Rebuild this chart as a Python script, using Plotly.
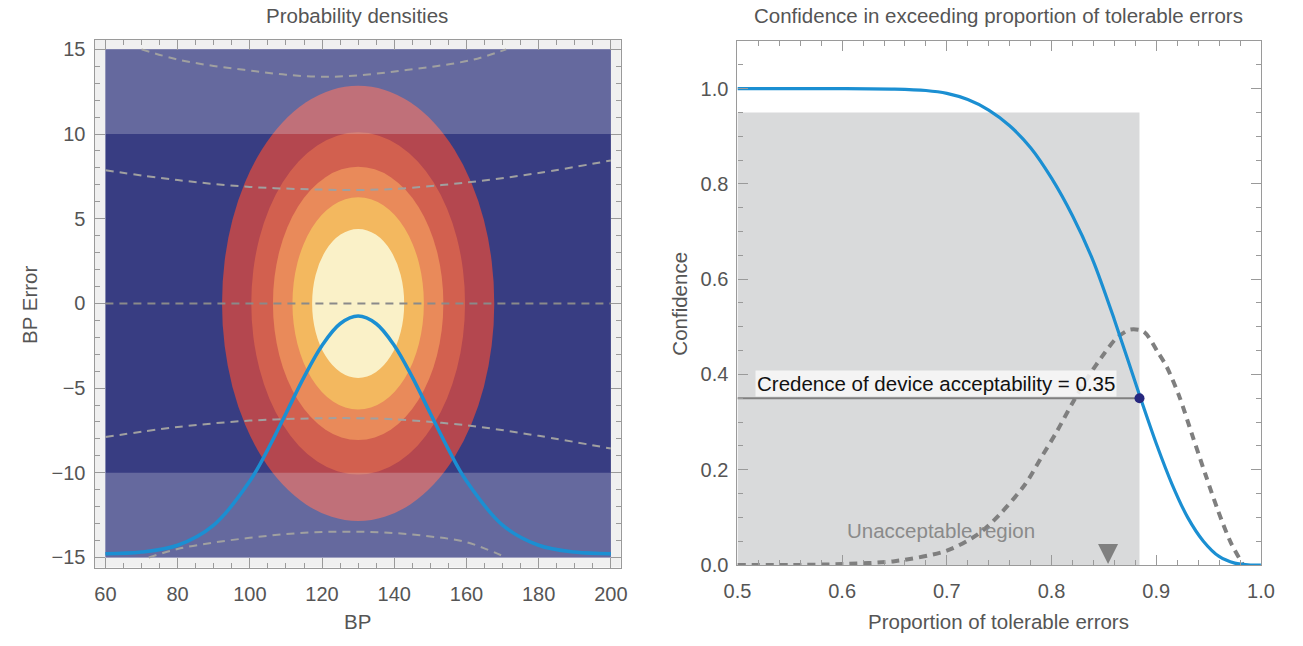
import plotly.graph_objects as go

# ---------------- Left panel data ----------------
# Elliptical density contour bands (centre, semi-axes), outer -> inner
ell_cx = 130.0
ell_cy = 0.0
ell_ax = [37.7, 29.6, 23.6, 18.2, 12.75]
ell_ay = [12.85, 10.1, 8.07, 6.27, 4.4]
ell_colors = ["#b4474f", "#d2604f", "#e98a5a", "#f3b85f", "#faf1c8"]

# dashed reference curves
mid_x = [60, 200]
mid_y = [0, 0]
up_in_x = [60, 80, 100, 120, 130, 140, 160, 180, 200]
up_in_y = [7.86, 7.28, 6.88, 6.72, 6.70, 6.76, 7.14, 7.70, 8.44]
lo_in_x = [60, 80, 100, 120, 130, 140, 160, 180, 200]
lo_in_y = [-7.89, -7.3, -6.92, -6.78, -6.78, -6.84, -7.2, -7.82, -8.57]
up_out_x = [70, 80, 90, 100, 110, 121, 132, 142, 152, 162, 171]
up_out_y = [15.0, 14.4, 14.02, 13.75, 13.5, 13.38, 13.5, 13.75, 14.02, 14.4, 15.0]
lo_out_x = [72, 80, 90, 100, 110, 120, 130, 140, 150, 160, 171]
lo_out_y = [-15.0, -14.5, -14.12, -13.84, -13.62, -13.5, -13.48, -13.56, -13.76, -14.1, -15.0]

# blue marginal curve
bp_x = [60, 70, 80, 90, 100, 105, 110, 115, 120, 125, 130, 135, 140, 145, 150, 155, 160, 170, 180, 190, 200]
bp_y = [-14.78, -14.68, -14.28, -13.09, -10.49, -8.62, -6.50, -4.35, -2.48, -1.20, -0.75,
        -1.20, -2.48, -4.35, -6.50, -8.62, -10.49, -13.09, -14.28, -14.68, -14.78]

# ---------------- Right panel data ----------------
conf_x = [0.50, 0.60, 0.65, 0.68, 0.70, 0.72, 0.74, 0.76, 0.78, 0.80, 0.82, 0.84, 0.86,
          0.885, 0.90, 0.915, 0.93, 0.945, 0.96, 0.975, 0.99, 1.0]
conf_y = [1.0, 1.0, 0.999, 0.996, 0.99, 0.977, 0.955, 0.922, 0.876, 0.812, 0.733, 0.637, 0.515,
          0.35, 0.255, 0.17, 0.10, 0.05, 0.018, 0.004, 0.0, 0.0]

dens_x = [0.50, 0.55, 0.60, 0.65, 0.70, 0.73, 0.75, 0.775, 0.79, 0.805, 0.82, 0.835, 0.85,
          0.862, 0.875, 0.888, 0.902, 0.91, 0.922, 0.934, 0.947, 0.959, 0.971, 0.983]
dens_y = [0.0, 0.0, 0.002, 0.008, 0.03, 0.065, 0.105, 0.17, 0.225, 0.28, 0.34, 0.395, 0.443,
          0.476, 0.494, 0.49, 0.445, 0.416, 0.354, 0.275, 0.19, 0.114, 0.048, 0.0]

region_x = [0.5, 0.884]
region_y = [0.0, 0.95]
credence_x = 0.884
credence = 0.35
arrow_x = 0.854

GRAY_TXT = "#555555"
FONT = "Liberation Sans"
TICK = "#9a9a9a"

fig = go.Figure()

# ---- left panel traces ----
dash_style = dict(color="#a0a0a0", width=2, dash="8px,6px")
for xs, ys in [(up_out_x, up_out_y), (up_in_x, up_in_y), (lo_in_x, lo_in_y), (lo_out_x, lo_out_y)]:
    fig.add_trace(go.Scatter(x=xs, y=ys, mode="lines", line=dict(shape="spline", **dash_style),
                             xaxis="x", yaxis="y", showlegend=False, hoverinfo="skip"))
fig.add_trace(go.Scatter(x=mid_x, y=mid_y, mode="lines",
                         line=dict(color="#8a8a8a", width=2, dash="8px,6px"),
                         xaxis="x", yaxis="y", showlegend=False, hoverinfo="skip"))
fig.add_trace(go.Scatter(x=bp_x, y=bp_y, mode="lines",
                         line=dict(color="#1b8fd2", width=3.5, shape="spline"),
                         xaxis="x", yaxis="y", showlegend=False, hoverinfo="skip"))

# ---- right panel traces ----
fig.add_trace(go.Scatter(x=[region_x[0], region_x[0], region_x[1], region_x[1]],
                         y=[region_y[0], region_y[1], region_y[1], region_y[0]],
                         fill="toself", fillcolor="#d9dadb", mode="none",
                         xaxis="x2", yaxis="y2", showlegend=False, hoverinfo="skip"))
fig.add_trace(go.Scatter(x=[region_x[0], credence_x], y=[credence, credence], mode="lines",
                         line=dict(color="#808080", width=2),
                         xaxis="x2", yaxis="y2", showlegend=False, hoverinfo="skip"))
fig.add_trace(go.Scatter(x=dens_x, y=dens_y, mode="lines",
                         line=dict(color="#7f7f7f", width=4, dash="8px,6px", shape="spline", smoothing=0.8),
                         xaxis="x2", yaxis="y2", showlegend=False, hoverinfo="skip"))
fig.add_trace(go.Scatter(x=conf_x, y=conf_y, mode="lines",
                         line=dict(color="#1b8fd2", width=3.2, shape="spline", smoothing=0.8),
                         xaxis="x2", yaxis="y2", showlegend=False, hoverinfo="skip"))
fig.add_trace(go.Scatter(x=[credence_x], y=[credence], mode="markers",
                         marker=dict(color="#27287f", size=10),
                         xaxis="x2", yaxis="y2", showlegend=False, hoverinfo="skip"))

# ---- shapes (left panel background, ellipses, bands) ----
shapes = []
shapes.append(dict(type="rect", xref="x domain", yref="y domain", x0=0, x1=1, y0=0, y1=1,
                   fillcolor="#f0f0f0", line=dict(width=0), layer="below"))
shapes.append(dict(type="rect", xref="x", yref="y", x0=60, x1=200, y0=-15, y1=15,
                   fillcolor="#383d82", line=dict(width=0), layer="below"))
for ax_, ay_, c in zip(ell_ax, ell_ay, ell_colors):
    shapes.append(dict(type="circle", xref="x", yref="y",
                       x0=ell_cx - ax_, x1=ell_cx + ax_, y0=ell_cy - ay_, y1=ell_cy + ay_,
                       fillcolor=c, line=dict(width=0), layer="below"))
for y0, y1 in [(10, 15), (-15, -10)]:
    shapes.append(dict(type="rect", xref="x", yref="y", x0=60, x1=200, y0=y0, y1=y1,
                       fillcolor="rgba(226,226,236,0.27)", line=dict(width=0), layer="below"))

axis_common = dict(showgrid=False, zeroline=False, showline=True, linecolor=TICK, linewidth=1.2,
                   mirror="ticks", ticks="inside", ticklen=10, tickcolor=TICK, tickwidth=1.2,
                   tickfont=dict(family=FONT, size=20, color=GRAY_TXT))
minor_common = dict(ticks="inside", ticklen=5, tickcolor=TICK, tickwidth=1.2)

fig.update_layout(
    width=1303, height=646,
    margin=dict(l=0, r=0, t=0, b=0),
    paper_bgcolor="white", plot_bgcolor="white",
    showlegend=False,
    shapes=shapes,
    xaxis=dict(domain=[0.0632, 0.4758], range=[57.0, 202.7], tickvals=[60, 80, 100, 120, 140, 160, 180, 200],
               minor=dict(dtick=5, tick0=0, **minor_common), ticklabelstandoff=8,
               anchor="y", **axis_common),
    yaxis=dict(domain=[0.1063, 0.9392], range=[-15.6, 15.58], tickvals=[-15, -10, -5, 0, 5, 10, 15],
               minor=dict(dtick=1, tick0=0, **minor_common), ticklabelstandoff=4,
               anchor="x", **axis_common),
    xaxis2=dict(domain=[0.5674, 0.978], range=[0.5, 1.0], dtick=0.1, tick0=0.5, tickformat=".1f",
                minor=dict(dtick=0.02, tick0=0.5, **minor_common), ticklabelstandoff=8,
                anchor="y2", **axis_common),
    yaxis2=dict(domain=[0.1104, 0.937], range=[0, 1.1], dtick=0.2, tick0=0, tickformat=".1f",
                minor=dict(dtick=0.05, tick0=0, **minor_common), ticklabelstandoff=4,
                anchor="x2", **axis_common),
)

ann_font = dict(family=FONT, size=20.5, color=GRAY_TXT)
base = dict(xref="paper", yref="paper", showarrow=False, xanchor="center", yanchor="middle", font=ann_font)
annotations = [
    dict(text="Probability densities", x=351 / 1303, y=1 - 15 / 646, **base),
    dict(text="Confidence in exceeding proportion of tolerable errors", x=1006 / 1303, y=1 - 15 / 646, **base),
    dict(text="BP", x=351 / 1303, y=1 - 632 / 646, **base),
    dict(text="Proportion of tolerable errors", x=1006 / 1303, y=1 - 632 / 646, **base),
    dict(text="BP Error", x=16 / 1303, y=1 - 310 / 646, textangle=-90, **base),
    dict(text="Confidence", x=680 / 1303, y=1 - 308 / 646, textangle=-90, **base),
    dict(text="Credence of device acceptability = 0.35", x=0.6895, y=0.381, xref="x2", yref="y2",
         xanchor="center", yanchor="middle",
         showarrow=False, font=dict(family=FONT, size=20.5, color="#111111"),
         bgcolor="rgba(248,248,248,0.85)", borderpad=1),
    dict(text="Unacceptable region", x=0.694, y=0.072, xref="x2", yref="y2",
         xanchor="center", yanchor="middle",
         showarrow=False, font=dict(family=FONT, size=20.5, color="#8a8a8a")),
    # downward arrow head marking the threshold
    dict(text="", x=arrow_x, y=0.0, xref="x2", yref="y2", ax=0, ay=-17,
         showarrow=True, arrowhead=2, arrowsize=1.6, arrowwidth=2.5, arrowcolor="#808080", standoff=1),
]
fig.update_layout(annotations=annotations)

fig.write_html("out.html")
